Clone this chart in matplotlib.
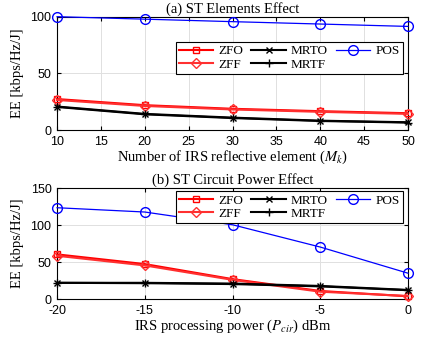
import matplotlib
matplotlib.use('Agg')
import matplotlib.pyplot as plt

# (a) 单元数效应
elements = [10, 20, 30, 40, 50]
a_zfo = [27.4, 22.0, 18.8, 16.7, 14.9]
a_zff = [26.6, 21.3, 18.2, 16.1, 14.3]
a_mrto = [20.8, 14.3, 11.0, 8.3, 6.9]
a_mrtf = [20.4, 13.9, 10.6, 8.0, 6.6]
a_pos = [100.2, 98.0, 95.8, 93.7, 91.6]

# (b) 电路功率效应
power = [-20, -15, -10, -5, 0]
b_zfo = [60.4, 47.3, 27.0, 11.0, 3.8]
b_zff = [58.5, 45.5, 26.0, 10.0, 4.2]
b_mrto = [22.0, 22.0, 21.0, 17.8, 12.4]
b_mrtf = [22.0, 21.5, 20.3, 17.2, 12.0]
b_pos = [123.4, 117.6, 100.4, 70.3, 35.0]

SERIF = ['Liberation Serif', 'DejaVu Serif']
plt.rcParams['mathtext.fontset'] = 'stix'
plt.rcParams['font.family'] = ['Liberation Sans', 'DejaVu Sans']
plt.rcParams['axes.unicode_minus'] = False


def draw(ax, x, zfo, zff, mrto, mrtf, pos, anchor):
    ax.plot(x, zfo, color='#ff0000', lw=1.5, marker='s', ms=5, mfc='none', label='ZFO', clip_on=False, zorder=4)
    ax.plot(x, zff, color='#ff3030', lw=1.5, marker='D', ms=5, mfc='none', label='ZFF', clip_on=False, zorder=4)
    ax.plot(x, mrto, color='black', lw=1.5, marker='x', ms=5, label='MRTO', clip_on=False, zorder=4)
    ax.plot(x, mrtf, color='black', lw=1.5, marker='+', ms=6, label='MRTF', clip_on=False, zorder=4)
    ax.plot(x, pos, color='#0000ff', lw=0.9, marker='o', ms=7, mfc='none', label='POS', clip_on=False, zorder=4)
    ax.grid(True, color='#e0e0e0', lw=0.7)
    ax.set_axisbelow(True)
    ax.tick_params(direction='in', top=True, right=True, labelsize=9, length=3, pad=4)
    for s in ax.spines.values():
        s.set_linewidth(0.8)
    leg = ax.legend(ncol=3, loc='upper right', bbox_to_anchor=anchor, borderaxespad=0,
                    prop={'family': SERIF, 'size': 9.5}, fancybox=False, edgecolor='black',
                    framealpha=1, borderpad=0.25, labelspacing=0.1, handlelength=2.6,
                    columnspacing=0.6, handletextpad=0.4)
    leg.get_frame().set_linewidth(0.8)
    return leg


fig = plt.figure(figsize=(4.29, 3.45), dpi=100)

ax1 = fig.add_axes([0.133, 0.623, 0.818, 0.328])
draw(ax1, elements, a_zfo, a_zff, a_mrto, a_mrtf, a_pos, (0.986, 0.78))
ax1.set_xlim(10, 50)
ax1.set_ylim(0, 100)
ax1.set_xticks(range(10, 51, 5))
ax1.set_yticks([0, 50, 100])
ax1.set_title('(a) ST Elements Effect', family=SERIF, fontsize=10.5, pad=3)
ax1.set_xlabel('Number of IRS reflective element ($M_k$)', family=SERIF, fontsize=10.5, labelpad=1)
ax1.set_ylabel('EE [kbps/Hz/J]', family=SERIF, fontsize=10.5, labelpad=5)

ax2 = fig.add_axes([0.133, 0.133, 0.818, 0.322])
draw(ax2, power, b_zfo, b_zff, b_mrto, b_mrtf, b_pos, (0.986, 0.973))
ax2.set_xlim(-20, 0)
ax2.set_ylim(0, 150)
ax2.set_xticks(power)
ax2.set_yticks([0, 50, 100, 150])
ax2.set_title('(b) ST Circuit Power Effect', family=SERIF, fontsize=10.5, pad=3)
ax2.set_xlabel('IRS processing power ($P_{cir}$) dBm', family=SERIF, fontsize=10.5, labelpad=1)
ax2.set_ylabel('EE [kbps/Hz/J]', family=SERIF, fontsize=10.5, labelpad=5)

fig.savefig('out.png', dpi=100)
